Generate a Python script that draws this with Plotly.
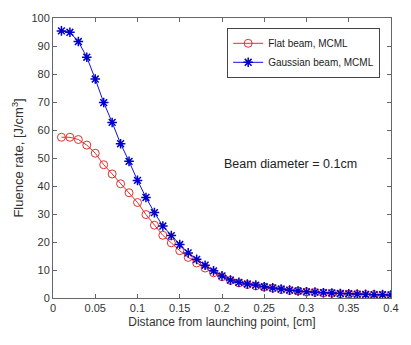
import plotly.graph_objects as go

x = [round(0.01 * i, 2) for i in range(1, 41)]
flat = [57.4, 57.4, 56.6, 54.6, 51.7, 47.6, 44.3, 40.8, 37.6, 34.1,
        29.8, 26.0, 22.4, 19.7, 16.9, 14.5, 12.5, 10.7, 9.0, 7.6,
        6.3, 5.4, 4.8, 4.3, 3.9, 3.5, 3.0, 2.7, 2.5, 2.2,
        2.0, 1.8, 1.7, 1.5, 1.4, 1.3, 1.2, 1.2, 1.1, 1.0]
gauss = [95.4, 94.9, 91.6, 86.0, 78.2, 69.8, 62.7, 55.1, 48.8, 42.0,
         35.9, 30.5, 25.7, 22.3, 19.1, 16.1, 13.8, 11.7, 9.7, 7.9,
         6.4, 5.6, 5.0, 4.6, 4.0, 3.6, 3.2, 2.8, 2.5, 2.2,
         2.1, 1.9, 1.8, 1.6, 1.5, 1.4, 1.3, 1.2, 1.2, 1.1]
xticks = [0, 0.05, 0.1, 0.15, 0.2, 0.25, 0.3, 0.35, 0.4]
xticklabels = ["0", "0.05", "0.1", "0.15", "0.2", "0.25", "0.3", "0.35", "0.4"]
yticks = list(range(0, 101, 10))

font = "Liberation Sans, Arial, sans-serif"
fig = go.Figure()
fig.add_trace(go.Scatter(x=x, y=flat, mode="lines+markers", name="Flat beam, MCML",
                         line=dict(color="#e03030", width=1),
                         marker=dict(symbol="circle-open", size=8, color="#e03030", line=dict(width=1))))
fig.add_trace(go.Scatter(x=x, y=gauss, mode="lines+markers", name="Gaussian beam, MCML",
                         line=dict(color="#1010e0", width=1),
                         marker=dict(symbol="asterisk-open", size=8, color="#0000cc", line=dict(width=1.5, color="#0000cc"))))
fig.add_annotation(x=0.2, y=47.7, text="Beam diameter = 0.1cm", showarrow=False,
                   xanchor="left", yanchor="middle", font=dict(size=12.5, color="#222", family=font))
axcommon = dict(showline=True, linecolor="#666", linewidth=1, mirror="ticks",
                ticks="inside", ticklen=4, tickcolor="#666", showgrid=False, zeroline=False,
                tickfont=dict(size=11, color="#333", family=font))
fig.update_layout(
    width=411, height=345, margin=dict(l=53, r=12, t=13, b=47),
    plot_bgcolor="white", paper_bgcolor="white",
    font=dict(family=font, color="#333"),
    xaxis=dict(range=[0, 0.4], tickvals=xticks, ticktext=xticklabels,
               title=dict(text="Distance from launching point, [cm]", font=dict(size=12, color="#333"), standoff=4),
               **axcommon),
    yaxis=dict(range=[0, 100], tickvals=yticks,
               title=dict(text="Fluence rate, [J/cm<sup>3</sup>]", font=dict(size=13, color="#333"), standoff=4),
               **axcommon),
    legend=dict(x=0.968, y=0.965, xanchor="right", yanchor="top", bgcolor="white",
                bordercolor="#444", borderwidth=1, font=dict(size=10, color="#222", family=font),
                tracegroupgap=0, itemwidth=30),
)
fig.write_html("out.html")
